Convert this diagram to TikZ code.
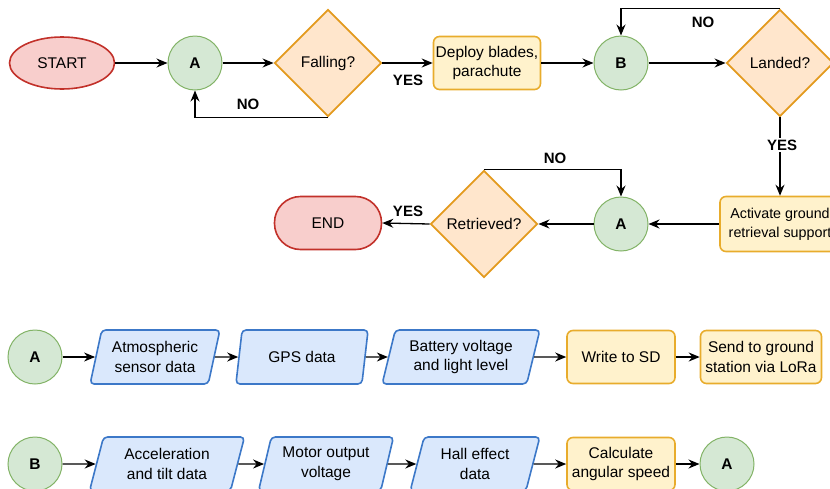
\documentclass[tikz,border=0pt]{standalone}
\usepackage{fontspec}
\setmainfont{Liberation Sans}
\usetikzlibrary{shapes.geometric,arrows.meta}
\definecolor{redfill}{HTML}{F8CECC}
\definecolor{redline}{HTML}{C2312A}
\definecolor{greenfill}{HTML}{D5E8D4}
\definecolor{greenline}{HTML}{82B366}
\definecolor{orfill}{HTML}{FFE6CC}
\definecolor{orline}{HTML}{E39A1E}
\definecolor{yelfill}{HTML}{FFF2CC}
\definecolor{yelline}{HTML}{E8AC2C}
\definecolor{bluefill}{HTML}{DAE8FC}
\definecolor{blueline}{HTML}{3C78C8}
\tikzset{
  base/.style={font=\fontsize{15.5}{19.5}\selectfont, align=center, inner sep=0pt, line width=1.6pt},
  term/.style={base, ellipse, fill=redfill, draw=redline},
  termend/.style={base, rectangle, rounded corners=26pt, fill=redfill, draw=redline, minimum width=107pt, minimum height=53pt},
  conn/.style={base, circle, fill=greenfill, draw=greenline, line width=1pt, minimum size=54pt, font=\fontsize{15.5}{18}\selectfont\bfseries},
  decis/.style={base, diamond, fill=orfill, draw=orline, line width=1.9pt, minimum width=107pt, minimum height=107pt, aspect=1},
  proc/.style={base, rectangle, rounded corners=6pt, fill=yelfill, draw=yelline, minimum height=53pt},
  io/.style={base, trapezium, trapezium left angle=73, trapezium right angle=107, trapezium stretches=true, rounded corners=4pt, fill=bluefill, draw=blueline, minimum height=54pt},
  arr/.style={line width=1.3pt, -{Stealth[length=11pt,width=9pt]}},
  lbl/.style={font=\fontsize{15}{17}\selectfont\bfseries, inner sep=1pt}
}
\begin{document}
\begin{tikzpicture}[x=1pt,y=-1pt]
\useasboundingbox (0,0) rectangle (830,488);
% row 1
\node[term, minimum width=105pt, minimum height=52pt] (start) at (62,63) {START};
\node[conn] (a1) at (195,63) {A};
\node[decis] (fall) at (328,63) {Falling?};
\node[proc, minimum width=107pt] (deploy) at (487,63) {Deploy blades,\\parachute};
\node[conn] (b1) at (621,63) {B};
\node[decis] (land) at (780,63) {Landed?};
% row 2
\node[proc, minimum width=120pt, minimum height=55pt, font=\fontsize{14.3}{19}\selectfont] (act) at (780,224) {Activate ground\\retrieval support};
\node[conn] (a2) at (621,224) {A};
\node[decis] (retr) at (484,224) {Retrieved?};
\node[termend] (end) at (328,223) {END};
% row 3
\node[conn] (a3) at (35,357) {A};
\node[io, minimum width=130pt] (atm) at (155,357) {Atmospheric\\sensor data};
\node[io, minimum width=133pt] (gps) at (302,357) {GPS data};
\node[io, minimum width=158pt] (bat) at (461,357) {Battery voltage\\and light level};
\node[proc, minimum width=108pt] (sd) at (621,357) {Write to SD};
\node[proc, minimum width=121pt] (lora) at (761,357) {Send to ground\\station via LoRa};
% row 4
\node[conn] (b2) at (35,464) {B};
\node[io, minimum width=155pt] (acc) at (167,464) {Acceleration\\and tilt data};
\node[io, minimum width=135pt] (mot) at (326,464) {Motor output\\voltage};
\node[io, minimum width=130pt] (hall) at (475,464) {Hall effect\\data};
\node[proc, minimum width=108pt] (calc) at (621,464) {Calculate\\angular speed};
\node[conn] (a4) at (727,464) {A};
% connectors row 1
\draw[arr] (start) -- (a1);
\draw[arr] (a1) -- (fall);
\draw[arr] (fall.south) -| (a1.south);
\node[lbl] (no1) at (248,104) {NO};
\draw[arr] (fall.east) -- (deploy.west);
\node[lbl] (yes1) at (408,80) {YES};
\draw[arr] (deploy) -- (b1);
\draw[arr] (b1) -- (land);
\draw[arr] (land.north) -| (b1.north);
\node[lbl] (no2) at (703,22) {NO};
\draw[arr] (land.south) -- (land.south |- act.north);
\node[lbl, fill=white, inner sep=2pt] (yes2) at (782,145) {YES};
% row 2
\draw[arr] (act.west) -- (a2.east);
\draw[arr] (a2.west) -- (retr.east);
\draw[arr] (retr.north) -| (a2.north);
\node[lbl] (no3) at (555,158) {NO};
\draw[arr] (retr.west) -- (end.east);
\node[lbl] (yes3) at (408,211) {YES};
% row 3
\draw[arr] (a3) -- (atm);
\draw[arr] (atm) -- (gps);
\draw[arr] (gps) -- (bat);
\draw[arr] (bat) -- (sd);
\draw[arr] (sd) -- (lora);
% row 4
\draw[arr] (b2) -- (acc);
\draw[arr] (acc) -- (mot);
\draw[arr] (mot) -- (hall);
\draw[arr] (hall) -- (calc);
\draw[arr] (calc) -- (a4);
\end{tikzpicture}
\end{document}
